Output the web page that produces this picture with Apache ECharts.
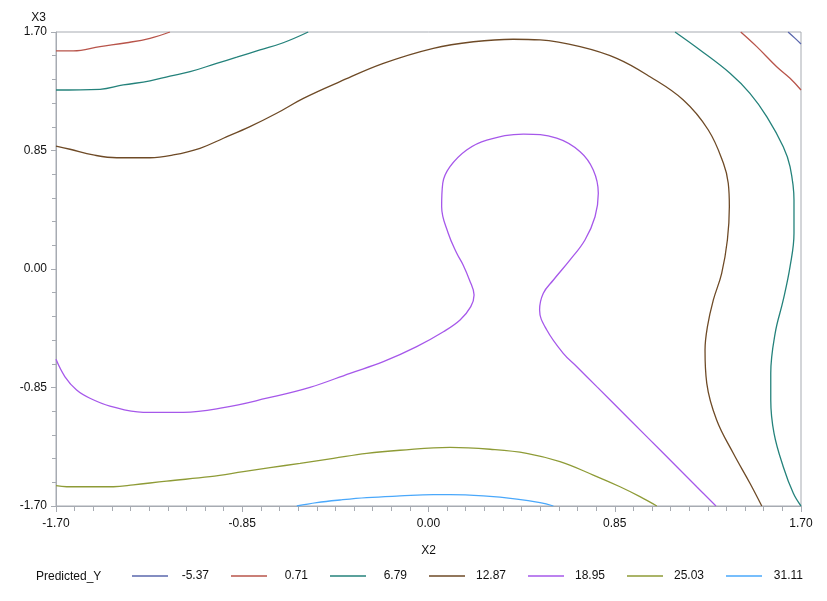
<!DOCTYPE html>
<html>
<head>
<meta charset="utf-8">
<script src="https://cdn.jsdelivr.net/npm/echarts@6/dist/echarts.min.js"></script>
<style>html,body{margin:0;padding:0;background:#fff;}#chart{width:827px;height:601px;}</style>
</head>
<body>
<div id="chart"></div>
<script>
// Contour levels (legend)
const levels = ['-5.37', '0.71', '6.79', '12.87', '18.95', '25.03', '31.11'];
const levelColors = ['#5a67ad', '#b8544a', '#24827b', '#6e4a26', '#a658ea', '#8e9b36', '#4aa8fb'];

// Contour paths in data units [X2, X3]
const c_n537 = [[1.641,1.70],[1.672,1.656],[1.70,1.614]];
const c_071a = [[-1.70,1.564],[-1.621,1.564],[-1.499,1.595],[-1.377,1.623],[-1.271,1.655],[-1.180,1.70]];
const c_071b = [[1.425,1.70],[1.498,1.595],[1.589,1.451],[1.650,1.368],[1.70,1.284]];
const c_679a = [[-1.70,1.284],[-1.499,1.289],[-1.393,1.320],[-1.271,1.349],[-1.180,1.384],[-1.088,1.415],[-0.967,1.475],[-0.875,1.519],[-0.769,1.571],[-0.663,1.623],[-0.549,1.70]];
const c_679b = [[1.125,1.70],[1.239,1.571],[1.376,1.404],[1.467,1.260],[1.545,1.090],[1.619,0.877],[1.650,0.734],[1.668,0.495],[1.668,0.256],[1.650,0.017],[1.619,-0.222],[1.582,-0.461],[1.562,-0.748],[1.562,-0.940],[1.577,-1.179],[1.619,-1.418],[1.665,-1.609],[1.70,-1.70]];
const c_1287 = [[-1.70,0.882],[-1.636,0.859],[-1.530,0.818],[-1.423,0.798],[-1.271,0.798],[-1.165,0.818],[-1.043,0.866],[-0.936,0.938],[-0.815,1.021],[-0.693,1.117],[-0.571,1.224],[-0.404,1.344],[-0.206,1.475],[0.022,1.583],[0.205,1.630],[0.387,1.648],[0.509,1.643],[0.692,1.595],[0.859,1.511],[1.011,1.379],[1.163,1.212],[1.277,0.997],[1.346,0.758],[1.368,0.615],[1.373,0.447],[1.364,0.208],[1.338,-0.031],[1.300,-0.222],[1.273,-0.414],[1.262,-0.581],[1.270,-0.820],[1.315,-1.083],[1.391,-1.322],[1.467,-1.537],[1.521,-1.70]];
const c_1895 = [[-1.70,-0.648],[-1.659,-0.773],[-1.606,-0.868],[-1.545,-0.927],[-1.454,-0.983],[-1.302,-1.028],[-1.119,-1.028],[-0.936,-0.995],[-0.738,-0.927],[-0.541,-0.849],[-0.358,-0.748],[-0.206,-0.665],[-0.054,-0.557],[0.068,-0.450],[0.144,-0.366],[0.193,-0.270],[0.208,-0.187],[0.187,-0.079],[0.158,0.029],[0.129,0.113],[0.090,0.256],[0.060,0.447],[0.065,0.615],[0.098,0.734],[0.174,0.854],[0.266,0.925],[0.433,0.968],[0.585,0.938],[0.692,0.841],[0.752,0.710],[0.775,0.543],[0.760,0.375],[0.714,0.208],[0.646,0.065],[0.570,-0.079],[0.524,-0.174],[0.507,-0.294],[0.540,-0.438],[0.615,-0.605],[0.677,-0.701],[0.768,-0.844],[0.920,-1.083],[1.072,-1.322],[1.224,-1.562],[1.312,-1.70]];
const c_2503 = [[-1.70,-1.554],[-1.651,-1.562],[-1.438,-1.562],[-1.347,-1.549],[-1.195,-1.521],[-0.997,-1.490],[-0.845,-1.454],[-0.723,-1.425],[-0.586,-1.394],[-0.434,-1.358],[-0.282,-1.322],[-0.130,-1.300],[0.098,-1.280],[0.281,-1.293],[0.448,-1.322],[0.600,-1.382],[0.752,-1.478],[0.874,-1.562],[0.965,-1.633],[1.042,-1.70]];
const c_3111 = [[-0.601,-1.70],[-0.510,-1.676],[-0.404,-1.657],[-0.282,-1.640],[-0.130,-1.628],[0.022,-1.619],[0.098,-1.619],[0.250,-1.628],[0.403,-1.650],[0.509,-1.676],[0.570,-1.70]];

const pieces = [
  [0, c_n537], [1, c_071a], [1, c_071b], [2, c_679a], [2, c_679b],
  [3, c_1287], [4, c_1895], [5, c_2503], [6, c_3111]
];

const gray = '#a7abb2';
const font = 'Liberation Sans, Arial, sans-serif';

const chart = echarts.init(document.getElementById('chart'), null, {renderer: 'canvas'});
chart.setOption({
  animation: false,
  backgroundColor: '#fff',
  title: {
    text: 'Predicted_Y', left: 36, top: 571, padding: 0,
    textStyle: {fontSize: 12, fontWeight: 'normal', color: '#111', fontFamily: font}
  },
  legend: {
    data: levels.map(function (n) { return {name: n, icon: 'rect'}; }),
    left: 132, top: 570, padding: 0,
    itemWidth: 36, itemHeight: 1.4, itemGap: 22,
    formatter: function (n) { return '{a|' + n + '}'; },
    textStyle: {
      fontSize: 12, color: '#111', fontFamily: font,
      rich: {a: {width: 36, align: 'right', fontSize: 12, color: '#111', fontFamily: font}}
    }
  },
  grid: {left: 56, right: 26, top: 32, bottom: 95, show: true, borderColor: gray, borderWidth: 1},
  xAxis: {
    type: 'value', min: -1.7, max: 1.7, interval: 0.85,
    name: 'X2', nameLocation: 'middle', nameGap: 39,
    nameTextStyle: {fontSize: 12, color: '#111', fontFamily: font},
    axisLine: {show: true, onZero: false, lineStyle: {color: gray}},
    axisTick: {show: true, length: 6, lineStyle: {color: gray}},
    minorTick: {show: true, splitNumber: 10, length: 5, lineStyle: {color: gray}},
    splitLine: {show: false},
    axisLabel: {margin: 12, fontSize: 12, color: '#111', fontFamily: font,
      formatter: function (v) { return v.toFixed(2); }}
  },
  yAxis: {
    type: 'value', min: -1.7, max: 1.7, interval: 0.85,
    name: 'X3', nameLocation: 'end', nameGap: 8,
    nameTextStyle: {fontSize: 12, color: '#111', fontFamily: font, align: 'right', padding: [0, 10, 0, 0]},
    axisLine: {show: true, onZero: false, lineStyle: {color: gray}},
    axisTick: {show: true, length: 5, lineStyle: {color: gray}},
    minorTick: {show: true, splitNumber: 5, length: 4, lineStyle: {color: gray}},
    splitLine: {show: false},
    axisLabel: {margin: 9, fontSize: 12, color: '#111', fontFamily: font,
      formatter: function (v) { return v.toFixed(2); }}
  },
  series: pieces.map(function (p) {
    return {
      type: 'line', name: levels[p[0]], data: p[1],
      symbol: 'none', smooth: 0.4, clip: true,
      color: levelColors[p[0]],
      lineStyle: {width: 1.3, color: levelColors[p[0]]}
    };
  })
});
</script>
</body>
</html>
